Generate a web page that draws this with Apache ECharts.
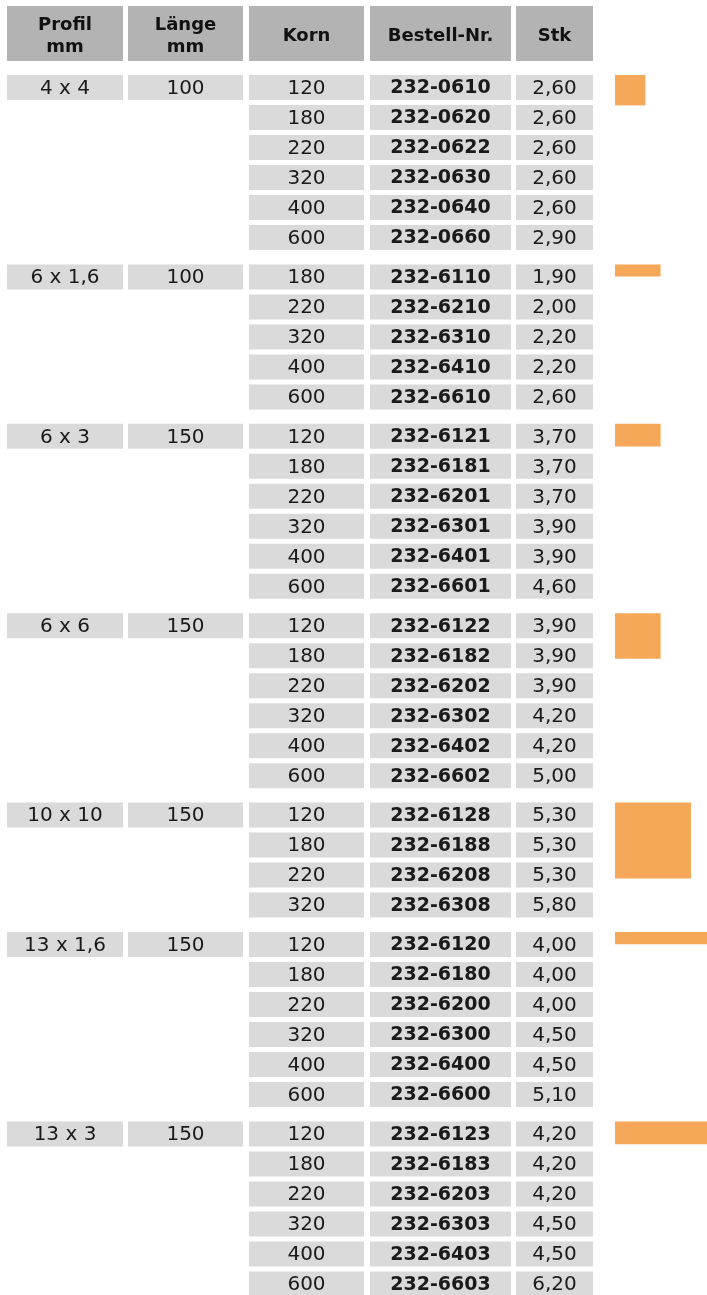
<!DOCTYPE html>
<html>
<head>
<meta charset="utf-8">
<script src="https://cdn.jsdelivr.net/npm/echarts@6/dist/echarts.min.js"></script>
<style>
html,body{margin:0;padding:0;background:#fff;}
#chart{width:707px;height:1295px;}
</style>
</head>
<body>
<div id="chart"></div>
<script>
// ---- DATA ----
const headers = ['Profil\nmm', 'Länge\nmm', 'Korn', 'Bestell-Nr.', 'Stk'];
const profile = ['4 x 4', '6 x 1,6', '6 x 3', '6 x 6', '10 x 10', '13 x 1,6', '13 x 3'];
const profileW = [4, 6, 6, 6, 10, 13, 13];
const profileH = [4, 1.6, 3, 6, 10, 1.6, 3];
const laenge = [100, 100, 150, 150, 150, 150, 150];
const korn = [
  [120, 180, 220, 320, 400, 600],
  [180, 220, 320, 400, 600],
  [120, 180, 220, 320, 400, 600],
  [120, 180, 220, 320, 400, 600],
  [120, 180, 220, 320],
  [120, 180, 220, 320, 400, 600],
  [120, 180, 220, 320, 400, 600]
];
const bestellNr = [
  ['232-0610', '232-0620', '232-0622', '232-0630', '232-0640', '232-0660'],
  ['232-6110', '232-6210', '232-6310', '232-6410', '232-6610'],
  ['232-6121', '232-6181', '232-6201', '232-6301', '232-6401', '232-6601'],
  ['232-6122', '232-6182', '232-6202', '232-6302', '232-6402', '232-6602'],
  ['232-6128', '232-6188', '232-6208', '232-6308'],
  ['232-6120', '232-6180', '232-6200', '232-6300', '232-6400', '232-6600'],
  ['232-6123', '232-6183', '232-6203', '232-6303', '232-6403', '232-6603']
];
const stk = [
  ['2,60', '2,60', '2,60', '2,60', '2,60', '2,90'],
  ['1,90', '2,00', '2,20', '2,20', '2,60'],
  ['3,70', '3,70', '3,70', '3,90', '3,90', '4,60'],
  ['3,90', '3,90', '3,90', '4,20', '4,20', '5,00'],
  ['5,30', '5,30', '5,30', '5,80'],
  ['4,00', '4,00', '4,00', '4,50', '4,50', '5,10'],
  ['4,20', '4,20', '4,20', '4,50', '4,50', '6,20']
];

// ---- LAYOUT (page units) ----
const colX = [[7, 123], [128, 243], [249, 364], [370, 511], [516, 593]];
const headerTop = 6, headerBottom = 61;
const firstRowTop = 75, rowStep = 30, groupStep = 39.4, cellH = 25;
const rectX = 615, mmScale = 7.6;
const FONT = '"DejaVu Sans", sans-serif';

const cells = [];   // [x0, y0, x1, y1]
const cellInfo = []; // {text, kind}
headers.forEach((h, c) => {
  cells.push([colX[c][0], headerTop, colX[c][1], headerBottom]);
  cellInfo.push({ text: h, kind: 'head' });
});
const rects = []; // [x, yTop, wMm, hMm]
let rowTop = firstRowTop;
profile.forEach((p, g) => {
  rects.push([rectX, rowTop, profileW[g], profileH[g]]);
  korn[g].forEach((k, r) => {
    if (r === 0) {
      cells.push([colX[0][0], rowTop, colX[0][1], rowTop + cellH]); cellInfo.push({ text: p, kind: 'body' });
      cells.push([colX[1][0], rowTop, colX[1][1], rowTop + cellH]); cellInfo.push({ text: String(laenge[g]), kind: 'body' });
    }
    cells.push([colX[2][0], rowTop, colX[2][1], rowTop + cellH]); cellInfo.push({ text: String(k), kind: 'body' });
    cells.push([colX[3][0], rowTop, colX[3][1], rowTop + cellH]); cellInfo.push({ text: bestellNr[g][r], kind: 'bold' });
    cells.push([colX[4][0], rowTop, colX[4][1], rowTop + cellH]); cellInfo.push({ text: stk[g][r], kind: 'body' });
    rowTop += (r === korn[g].length - 1) ? groupStep : rowStep;
  });
});

const fontFor = { head: 'bold 18px ' + FONT, bold: 'bold 19px ' + FONT, body: 'normal 20px ' + FONT };

const chart = echarts.init(document.getElementById('chart'), null, { renderer: 'canvas' });
chart.setOption({
  animation: false,
  backgroundColor: '#ffffff',
  grid: { left: 0, right: 0, top: 0, bottom: 0 },
  xAxis: { type: 'value', min: 0, max: 707, show: false },
  yAxis: { type: 'value', min: 0, max: 1295, inverse: true, show: false },
  series: [
    {
      type: 'custom',
      coordinateSystem: 'cartesian2d',
      data: cells,
      encode: { x: [0, 2], y: [1, 3] },
      clip: false,
      renderItem: function (params, api) {
        const p0 = api.coord([api.value(0), api.value(1)]);
        const p1 = api.coord([api.value(2), api.value(3)]);
        const info = cellInfo[params.dataIndex];
        const head = info.kind === 'head';
        const cx = (p0[0] + p1[0]) / 2;
        const cy = (p0[1] + p1[1]) / 2;
        return {
          type: 'group',
          children: [
            {
              type: 'rect',
              shape: { x: p0[0], y: p0[1], width: p1[0] - p0[0], height: p1[1] - p0[1] },
              style: { fill: head ? '#b3b3b3' : '#dadada' }
            },
            {
              type: 'text',
              x: cx,
              y: cy + (head ? 2.5 : 1),
              style: {
                text: info.text,
                align: 'center',
                verticalAlign: 'middle',
                fill: head ? '#111111' : '#1a1a1a',
                font: fontFor[info.kind],
                lineHeight: 22
              }
            }
          ]
        };
      }
    },
    {
      type: 'custom',
      coordinateSystem: 'cartesian2d',
      data: rects,
      encode: { x: 0, y: 1 },
      clip: false,
      renderItem: function (params, api) {
        const p0 = api.coord([api.value(0), api.value(1)]);
        const sz = api.size([api.value(2) * mmScale, api.value(3) * mmScale]);
        return {
          type: 'rect',
          shape: { x: p0[0], y: p0[1], width: sz[0], height: sz[1] },
          style: { fill: '#f5a858' }
        };
      }
    }
  ]
});
</script>
</body>
</html>
